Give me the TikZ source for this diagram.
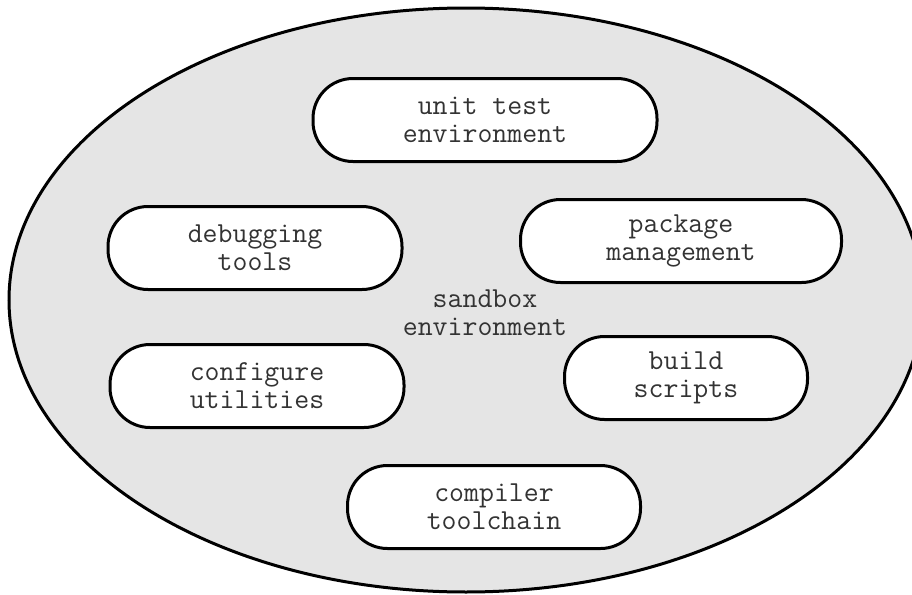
\documentclass[tikz,border=0pt]{standalone}
\usepackage{fontspec}
\usetikzlibrary{positioning,shapes}

\begin{document}
\begin{tikzpicture}[
    x=0.5pt, y=-0.5pt,
    label/.style={font=\ttfamily\fontsize{14.5}{14}\selectfont, text=black!80, align=center},
    tool/.style={label, rectangle, draw, line width=1.5pt, fill=white, rounded corners=20pt, minimum height=41.5pt}
]
    \useasboundingbox (0,0) rectangle (912,595);

    % Sandbox
    \draw[line width=1.5pt, fill=gray!20] (466,300) ellipse [x radius=457, y radius=292];
    \node[label] (sandbox) at (485,313) {sandbox\\environment};

    % Tools inside the sandbox
    \node[tool, minimum width=172pt] (unittest) at (485,120) {unit test\\environment};
    \node[tool, minimum width=147pt] (debug) at (255,248) {debugging\\tools};
    \node[tool, minimum width=160.5pt] (pkg) at (681,241) {package\\management};
    \node[tool, minimum width=147pt] (config) at (257,386) {configure\\utilities};
    \node[tool, minimum width=121.5pt] (build) at (686,378) {build\\scripts};
    \node[tool, minimum width=146.5pt] (compiler) at (494,507) {compiler\\toolchain};
\end{tikzpicture}
\end{document}
